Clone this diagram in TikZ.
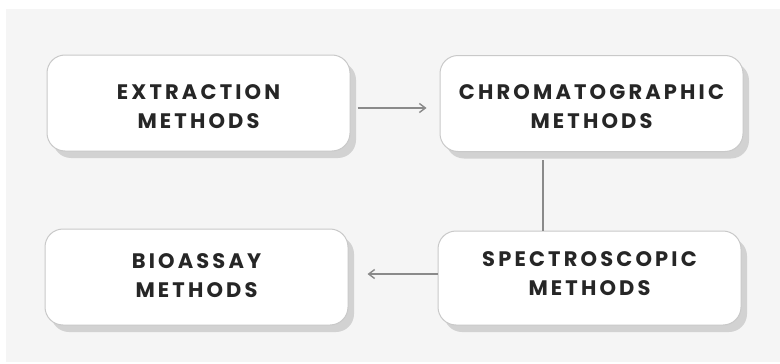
\documentclass[tikz,border=0pt]{standalone}
\usepackage{fontspec}
\setmainfont{Poppins}[LetterSpace=15]
\usetikzlibrary{shadows,arrows.meta}
\definecolor{bgpanel}{HTML}{F5F5F5}
\definecolor{boxedge}{HTML}{C9C9C9}
\definecolor{shadowgray}{HTML}{D2D2D2}
\definecolor{labeltext}{HTML}{262626}
\definecolor{linkgray}{HTML}{8A8A8A}
% two-line label with zero size; its last baseline sits #1 from the node centre
\newcommand{\twolines}[3]{\raisebox{#1}[0pt][0pt]{\shortstack{#2\\[10pt]#3}}}
\tikzset{
  methodbox/.style={
    draw=boxedge, line width=1pt, fill=white,
    rounded corners=18pt,
    minimum width=303pt, minimum height=96pt,
    align=center, text=labeltext,
    font=\bfseries\fontsize{21}{30}\selectfont,
    drop shadow={shadow xshift=6pt, shadow yshift=-7pt, fill=shadowgray, opacity=1}
  },
  link/.style={draw=linkgray, line width=1.4pt},
  linkarrow/.style={link, -{Straight Barb[length=6pt,width=9pt,line width=1.4pt]}}
}
\begin{document}
\begin{tikzpicture}[x=1pt,y=-1pt]
  % page frame and light panel behind the chart
  \useasboundingbox (0,0) rectangle (780,364);
  \fill[white] (0,0) rectangle (780,364);
  \fill[bgpanel] (6,9) rectangle (780,362);

  \node[methodbox] (extract) at (198.5,103)   {\twolines{-25pt}{EXTRACTION}{METHODS}};
  \node[methodbox] (chroma)  at (591.5,103.5) {\twolines{-24.5pt}{CHROMATOGRAPHIC}{METHODS}};
  \node[methodbox] (bio)     at (196.5,277)   {\twolines{-20pt}{BIOASSAY}{METHODS}};
  \node[methodbox, minimum height=94pt] (spectro) at (589.5,278) {\twolines{-17pt}{SPECTROSCOPIC}{METHODS}};

  % connectors between the method stages
  \coordinate (a1) at ([xshift=7pt]extract.east |- 0,108);
  \coordinate (a2) at ([xshift=-13pt]chroma.west |- 0,108);
  \draw[linkarrow] (a1) -- (a2);

  \coordinate (v1) at (543,0 |- chroma.south);
  \draw[link] ([yshift=-8pt]v1) -- (543,0 |- spectro.north);

  \coordinate (b1) at (spectro.west |- 0,274);
  \coordinate (b2) at ([xshift=19pt]bio.east |- 0,274);
  \draw[linkarrow] (b1) -- (b2);
\end{tikzpicture}
\end{document}
